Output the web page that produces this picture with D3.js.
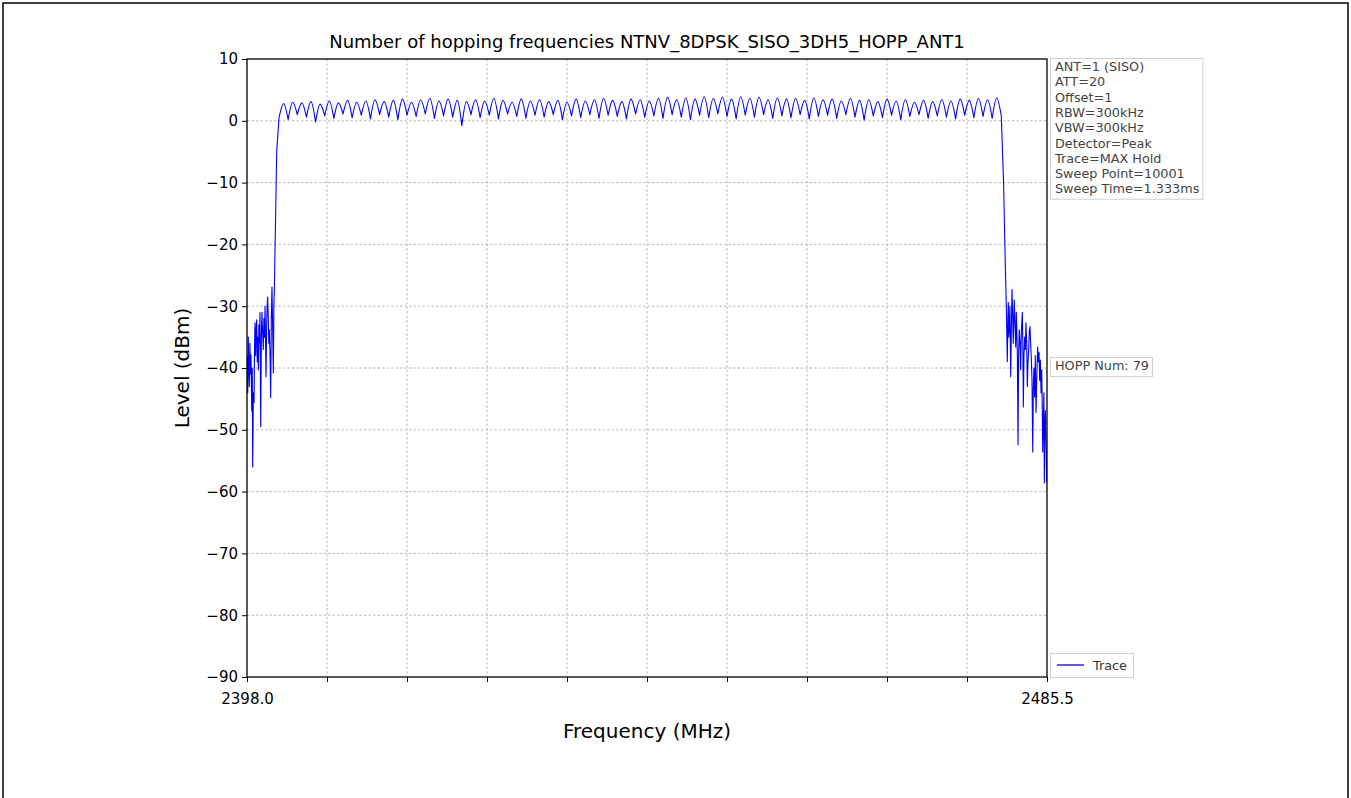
<!DOCTYPE html>
<html><head><meta charset="utf-8">
<script src="https://cdn.jsdelivr.net/npm/d3@7"></script>
<style>
html,body{margin:0;padding:0;background:#fff;}
svg{display:block;font-family:"DejaVu Sans",sans-serif;}
</style></head>
<body>
<svg id="chart" width="1351" height="798"></svg>
<script>
// ---------- DATA ----------
const titleText = "Number of hopping frequencies NTNV_8DPSK_SISO_3DH5_HOPP_ANT1";
const xLabel = "Frequency (MHz)";
const yLabel = "Level (dBm)";
const xDomain = [2398.0, 2485.5];
const yDomain = [-90, 10];
const xTicks = [2398.0, 2406.75, 2415.5, 2424.25, 2433.0, 2441.75, 2450.5, 2459.25, 2468.0, 2476.75, 2485.5];
const xTickLabels = ["2398.0", "", "", "", "", "", "", "", "", "", "2485.5"];
const yTicks = [10, 0, -10, -20, -30, -40, -50, -60, -70, -80, -90];
const infoLines = ["ANT=1 (SISO)", "ATT=20", "Offset=1", "RBW=300kHz", "VBW=300kHz",
  "Detector=Peak", "Trace=MAX Hold", "Sweep Point=10001", "Sweep Time=1.333ms"];
const hoppText = "HOPP Num: 79";
const legendText = "Trace";

// hopping channels (MHz)
const firstChannel = 2402;
const channelPeaks = [
  2.8, 3.0, 2.9, 3.1, 2.7, 3.2, 2.9, 3.3, 3.0, 3.2,
  3.4, 3.1, 3.3, 3.5, 3.0, 3.4, 3.6, 3.2, 3.5, 3.3,
  3.1, 3.4, 3.2, 3.6, 3.3, 3.0, 3.5, 3.2, 3.4, 3.1,
  3.3, 3.0, 3.5, 3.2, 3.4, 3.6, 3.3, 3.1, 3.5, 3.4,
  3.2, 3.6, 3.8, 3.4, 3.7, 3.5, 3.9, 3.6, 3.8, 3.5,
  3.9, 3.6, 3.8, 3.4, 3.7, 3.5, 3.6, 3.3, 3.7, 3.4,
  3.5, 3.2, 3.6, 3.3, 3.4, 3.1, 3.5, 3.2, 3.4, 3.0,
  3.3, 3.1, 3.4, 3.2, 3.5, 3.3, 3.6, 3.4, 3.7];
// level at the channel edges (80 values: left edge of ch0 ... right edge of ch78)
const channelDips = [
  0.5,
  0.2, 1.0, 0.6, -0.2, 0.8, 0.4, 1.1, 0.5, 0.9, 0.3,
  1.0, 0.6, 0.2, 0.9, 0.7, 1.1, 0.4, 0.8, 0.6, -0.8,
  1.0, 0.5, 0.9, 0.3, 1.1, 0.7, 0.4, 0.9, 0.6, 1.0,
  0.2, 0.8, 0.5, 1.0, 0.4, 0.9, 0.7, 0.3, 1.1, 0.6,
  0.8, 0.4, 1.0, 0.6, 0.2, 0.9, 0.5, 1.1, 0.7, 0.3,
  0.9, 0.6, 1.0, 0.4, 0.8, 0.5, 1.0, 0.3, 0.7, 0.9,
  0.4, 1.0, 0.6, 0.1, 0.8, 0.5, 0.9, 0.2, 0.7, 1.0,
  0.4, 0.8, 0.6, 0.3, 0.9, 0.5, 0.7, 0.4,
  0.8];

// out-of-band noise, left side
const leftNoiseFreq = [2398.0, 2398.08, 2398.14, 2398.2, 2398.25, 2398.32, 2398.38, 2398.44, 2398.52, 2398.58, 2398.62,
  2398.7, 2398.77, 2398.83, 2398.88, 2398.95, 2399.0, 2399.06, 2399.12, 2399.18, 2399.24, 2399.3, 2399.36, 2399.42,
  2399.5, 2399.57, 2399.64, 2399.7, 2399.78, 2399.85, 2399.92, 2399.97, 2400.03, 2400.08, 2400.15, 2400.2, 2400.26,
  2400.33, 2400.38, 2400.44, 2400.52, 2400.59, 2400.66, 2400.73, 2400.8, 2400.88, 2400.94, 2400.99, 2401.1, 2401.25];
const leftNoiseLevel = [-38, -44, -35, -40, -43, -36, -41, -37.9, -47, -40, -56,
  -44, -45.6, -36, -32.7, -38, -34, -32.2, -39, -35, -40.3, -33, -36, -31,
  -49.5, -35, -31, -34, -37, -32, -35, -30, -36, -41.4, -33, -30, -28.5,
  -32, -36, -33.8, -38, -44.8, -32, -26.9, -33, -40.8, -30, -27.3, -18, -5];

// out-of-band noise, right side
const rightNoiseFreq = [2480.75, 2480.95, 2481.05, 2481.16, 2481.22, 2481.27, 2481.33, 2481.38, 2481.45, 2481.53, 2481.6,
  2481.67, 2481.74, 2481.81, 2481.87, 2481.92, 2482.0, 2482.08, 2482.14, 2482.19, 2482.26, 2482.33, 2482.4, 2482.47,
  2482.55, 2482.62, 2482.7, 2482.8, 2482.86, 2482.91, 2482.98, 2483.06, 2483.13, 2483.2, 2483.28, 2483.35, 2483.42,
  2483.5, 2483.57, 2483.64, 2483.71, 2483.78, 2483.86, 2483.94, 2484.0, 2484.07, 2484.15, 2484.22, 2484.3, 2484.39,
  2484.48, 2484.55, 2484.63, 2484.7, 2484.77, 2484.85, 2484.92, 2484.98, 2485.03, 2485.1, 2485.16, 2485.21, 2485.27,
  2485.32, 2485.4, 2485.46];
const rightNoiseLevel = [-10, -24, -30, -39, -32, -29.4, -35, -33.3, -30, -41.4, -34,
  -27.3, -31, -36, -32, -29, -33, -36.6, -31, -33.5, -38, -52.4, -37, -33.8,
  -36, -40.3, -34, -31, -36, -46.3, -38, -35, -37, -32.7, -36, -43, -39,
  -37, -34, -33.3, -36, -38.2, -42, -53.6, -43.5, -40, -44.7, -38, -47.2, -41,
  -36.6, -39, -37.5, -42, -38.7, -44, -40.3, -46, -53.6, -48.4, -44, -58.6, -50,
  -46.9, -52, -58.5];

// ---------- CHART ----------
const svg = d3.select("#chart");
const W = 1351, H = 798;
const m = {left: 247, right: 1047, top: 59, bottom: 677};

// outer frame
svg.append("path")
  .attr("d", `M3,${H} L3,3 L1348,3 L1348,${H}`)
  .attr("fill", "none").attr("stroke", "#000").attr("stroke-width", 1.5);

const x = d3.scaleLinear().domain(xDomain).range([m.left, m.right]);
const y = d3.scaleLinear().domain(yDomain).range([m.bottom, m.top]);

// grid
const grid = svg.append("g");
grid.selectAll("line.gx").data(xTicks.slice(1, -1)).join("line")
  .attr("x1", d => x(d)).attr("x2", d => x(d))
  .attr("y1", m.top).attr("y2", m.bottom)
  .attr("stroke", "#a8a8a8").attr("stroke-width", 0.8).attr("stroke-dasharray", "2.5,2");
grid.selectAll("line.gy").data(yTicks.slice(1, -1)).join("line")
  .attr("x1", m.left).attr("x2", m.right)
  .attr("y1", d => y(d)).attr("y2", d => y(d))
  .attr("stroke", "#a8a8a8").attr("stroke-width", 0.8).attr("stroke-dasharray", "2.5,2");

// trace
svg.append("defs").append("clipPath").attr("id", "clip")
  .append("rect").attr("x", m.left).attr("y", m.top)
  .attr("width", m.right - m.left).attr("height", m.bottom - m.top);

const lin = d3.line().x(d => x(d[0])).y(d => y(d[1]));
const arch = d3.line().x(d => x(d[0])).y(d => y(d[1])).curve(d3.curveMonotoneX);

let dStr = lin(leftNoiseFreq.map((f, i) => [f, leftNoiseLevel[i]]));
channelPeaks.forEach((p, i) => {
  const f = firstChannel + i;
  const seg = arch([[f - 0.5, channelDips[i]], [f, p], [f + 0.5, channelDips[i + 1]]]);
  dStr += seg.replace(/^M/, "L");
});
dStr += lin(rightNoiseFreq.map((f, i) => [f, rightNoiseLevel[i]])).replace(/^M/, "L");

svg.append("path").attr("d", dStr).attr("clip-path", "url(#clip)")
  .attr("fill", "none").attr("stroke", "#0000ff").attr("stroke-width", 1.1)
  .attr("stroke-linejoin", "round");

// axes
const fmtY = d => (d < 0 ? "\u2212" + Math.abs(d) : String(d));
const yAxis = d3.axisLeft(y).tickValues(yTicks).tickFormat(fmtY).tickSize(5).tickPadding(4);
const gy = svg.append("g").attr("transform", `translate(${m.left},0)`).call(yAxis);
gy.select(".domain").remove();
gy.selectAll("text").attr("font-size", 15).attr("fill", "#000").attr("font-family", "DejaVu Sans");
gy.selectAll("line").attr("stroke", "#000").attr("stroke-width", 1);

const xAxis = d3.axisBottom(x).tickValues(xTicks).tickFormat((d, i) => xTickLabels[i]).tickSize(5).tickPadding(11);
const gx = svg.append("g").attr("transform", `translate(0,${m.bottom})`).call(xAxis);
gx.select(".domain").remove();
gx.selectAll("text").attr("font-size", 15).attr("fill", "#000").attr("font-family", "DejaVu Sans");
gx.selectAll("line").attr("stroke", "#000").attr("stroke-width", 1);

// plot frame
svg.append("rect").attr("x", m.left).attr("y", m.top)
  .attr("width", m.right - m.left).attr("height", m.bottom - m.top)
  .attr("fill", "none").attr("stroke", "#000").attr("stroke-width", 1.3);

// title and labels
svg.append("text").attr("x", (m.left + m.right) / 2).attr("y", 48)
  .attr("text-anchor", "middle").attr("font-size", 18).attr("fill", "#000").text(titleText);
svg.append("text").attr("x", (m.left + m.right) / 2).attr("y", 738)
  .attr("text-anchor", "middle").attr("font-size", 20).attr("fill", "#000").text(xLabel);
svg.append("text").attr("transform", `translate(189,${(m.top + m.bottom) / 2}) rotate(-90)`)
  .attr("text-anchor", "middle").attr("font-size", 20).attr("fill", "#000").text(yLabel);

// text boxes sized to their text
function textBox(lines, x0, y0, lineH, fs, color) {
  const g = svg.append("g");
  const rect = g.append("rect");
  const ts = g.selectAll("text").data(lines).join("text")
    .attr("x", x0 + 5).attr("y", (d, i) => y0 + 13 + i * lineH)
    .attr("font-size", fs).attr("fill", color).text(d => d);
  let w = 0;
  ts.each(function () { w = Math.max(w, this.getComputedTextLength()); });
  rect.attr("x", x0 + 0.5).attr("y", y0 + 0.5).attr("width", w + 8)
    .attr("height", lines.length * lineH + 3)
    .attr("fill", "#fff").attr("stroke", "#d0d0d0").attr("stroke-width", 1);
  return g;
}
textBox(infoLines, 1050, 58, 15.3, 12.8, "#444");
textBox([hoppText], 1050, 357, 16, 12.8, "#444");

// legend
svg.append("rect").attr("x", 1050.5).attr("y", 653.5).attr("width", 83).attr("height", 24)
  .attr("fill", "#fff").attr("stroke", "#d0d0d0");
svg.append("line").attr("x1", 1057).attr("x2", 1084).attr("y1", 665).attr("y2", 665)
  .attr("stroke", "#0000ff").attr("stroke-width", 1.3);
svg.append("text").attr("x", 1093).attr("y", 670).attr("font-size", 12.8).attr("fill", "#333").text(legendText);
</script>
</body></html>
